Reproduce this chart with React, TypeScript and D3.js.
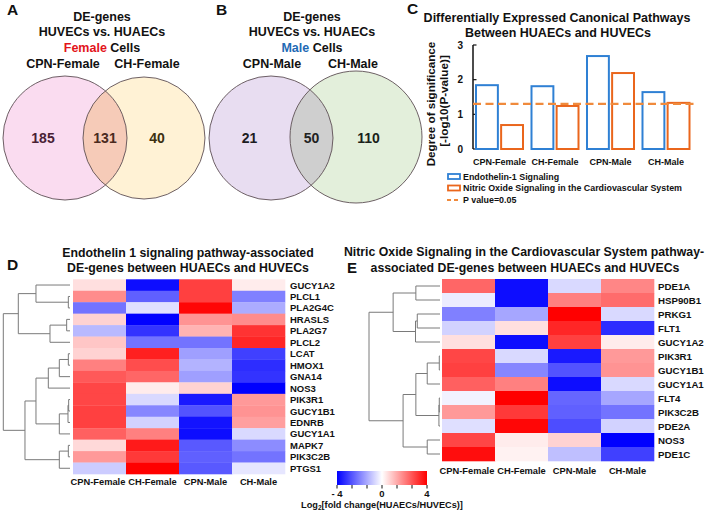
import React from 'react';
import * as d3 from 'd3';

// ---------- DATA ----------
const vennALabels = ['CPN-Female', 'CH-Female'];
const vennACounts = [185, 131, 40];
const vennBLabels = ['CPN-Male', 'CH-Male'];
const vennBCounts = [21, 50, 110];

const pathwayCats = ['CPN-Female', 'CH-Female', 'CPN-Male', 'CH-Male'];
const pathwaySeries = ['Endothelin-1 Signaling', 'Nitric Oxide Signaling in the Cardiovascular System'];
const endothelinSig = [1.87, 1.84, 2.71, 1.67];
const nitricSig = [0.72, 1.27, 2.22, 1.36];
const pThreshold = 1.3;
const yTicksC = [0, 1, 2, 3];

const heatCols = ['CPN-Female', 'CH-Female', 'CPN-Male', 'CH-Male'];

const dGenes = ['GUCY1A2', 'PLCL1', 'PLA2G4C', 'HRASLS', 'PLA2G7', 'PLCL2', 'LCAT', 'HMOX1', 'GNA14', 'NOS3',
  'PIK3R1', 'GUCY1B1', 'EDNRB', 'GUCY1A1', 'MAPK7', 'PIK3C2B', 'PTGS1'];
const dValues = [
  [0.5, -3.8, 3.0, 0.3],
  [1.8, -2.5, 3.0, -2.0],
  [-2.2, -0.5, 3.9, -1.3],
  [0.7, -4.0, 1.7, 1.8],
  [-1.1, -3.2, 1.2, 3.2],
  [0.9, -2.2, -2.2, 3.4],
  [0.7, 3.5, -1.5, -3.0],
  [2.0, 2.8, -1.2, -3.3],
  [2.6, 2.4, -1.5, -3.2],
  [2.9, 0.3, 0.7, -4.0],
  [2.9, -0.6, -3.6, 1.6],
  [3.0, -1.9, -2.7, 1.7],
  [3.0, -0.7, -3.7, 1.5],
  [2.5, 2.0, -3.8, -0.6],
  [0.6, 3.6, -2.6, -1.8],
  [1.6, 3.1, -2.5, -2.2],
  [-0.8, 4.0, -2.6, -0.4],
];
// [height, left, right] ; leaf = row index
const dTree: any = [1.0,
  [0.775, [0.51, 0, [0.025, 1, 2]], [0.3, [0.05, 3, 4], 5]],
  [0.675,
    [0.51, [0.325, [0.16, [0.025, 6, 7], 8], 9], [0.16, [0.03, [0.02, 10, 11], 12], 13]],
    [0.16, [0.025, 14, 15], 16]]];

const eGenes = ['PDE1A', 'HSP90B1', 'PRKG1', 'FLT1', 'GUCY1A2', 'PIK3R1', 'GUCY1B1', 'GUCY1A1', 'FLT4',
  'PIK3C2B', 'PDE2A', 'NOS3', 'PDE1C'];
const eValues = [
  [2.4, -3.8, -0.6, 1.9],
  [-0.3, -3.8, 2.0, 2.3],
  [-2.0, -1.4, 4.0, -0.6],
  [-0.7, 0.5, 3.4, -3.3],
  [0.5, -3.8, 3.0, 0.3],
  [2.9, -0.6, -3.6, 1.6],
  [3.0, -1.9, -2.7, 1.7],
  [2.5, 2.0, -3.8, -0.6],
  [-0.2, 4.0, -2.4, -1.4],
  [1.6, 3.1, -2.5, -2.2],
  [-0.5, 3.9, -2.8, -0.7],
  [2.9, 0.3, 0.7, -4.0],
  [3.8, 0.2, -1.0, -3.0],
];
const eTree: any = [1.0,
  [0.66, [0.34, 0, 1], [0.345, [0.32, 2, 3], 4]],
  [0.52,
    [0.34, [0.18, [0.01, 5, 6], 7], [0.015, [0.01, 8, 9], 10]],
    [0.18, 11, 12]]];

const colorDomain = [-4, 0, 4];
const colorbarLabels = [-4, 0, 4];

// ---------- HELPERS ----------
const FONT = '"Liberation Sans", Arial, Helvetica, sans-serif';
const heatColor = d3.scaleLinear<string>().domain(colorDomain).range(['#0000ff', '#ffffff', '#ff0000']).clamp(true);

function dendroPath(tree: any, yOf: (i: number) => number, xOf: (h: number) => number) {
  const p = d3.path();
  function walk(t: any): { y: number; h: number } {
    if (typeof t === 'number') return { y: yOf(t), h: 0 };
    const [h, a, b] = t;
    const ra = walk(a), rb = walk(b);
    const x = xOf(h);
    p.moveTo(xOf(ra.h), ra.y); p.lineTo(x, ra.y); p.lineTo(x, rb.y); p.lineTo(xOf(rb.h), rb.y);
    return { y: (ra.y + rb.y) / 2, h };
  }
  walk(tree);
  return p.toString();
}

function Venn({ id, labels, counts, cx1, cy1, r1, cx2, cy2, r2, fill1, fill2, fillLens, numColors, titleX, gender, genderColor, labelXs }: any) {
  return (
    <g>
      <defs>
        <clipPath id={id}><circle cx={cx1} cy={cy1} r={r1} /></clipPath>
      </defs>
      <text x={titleX} y={21} textAnchor="middle" fontSize={12.5}>DE-genes</text>
      <text x={titleX} y={36} textAnchor="middle" fontSize={12.5}>HUVECs vs. HUAECs</text>
      <text x={titleX} y={51.5} textAnchor="middle" fontSize={12.5}>
        <tspan fill={genderColor}>{gender}</tspan> Cells</text>
      <text x={labelXs[0]} y={68} textAnchor="middle" fontSize={12.5}>{labels[0]}</text>
      <text x={labelXs[1]} y={68} textAnchor="middle" fontSize={12.5}>{labels[1]}</text>
      <circle cx={cx1} cy={cy1} r={r1} fill={fill1} />
      <circle cx={cx2} cy={cy2} r={r2} fill={fill2} />
      <circle cx={cx2} cy={cy2} r={r2} fill={fillLens} clipPath={`url(#${id})`} />
      <circle cx={cx1} cy={cy1} r={r1} fill="none" stroke="#5d4f55" strokeWidth={0.9} />
      <circle cx={cx2} cy={cy2} r={r2} fill="none" stroke="#5d4f55" strokeWidth={0.9} />
      <text x={(cx1 - r1 + cx2 - r2) / 2} y={143} textAnchor="middle" fontSize={14} fill={numColors[0]}>{counts[0]}</text>
      <text x={(cx2 - r2 + cx1 + r1) / 2} y={143} textAnchor="middle" fontSize={14} fill={numColors[1]}>{counts[1]}</text>
      <text x={(cx1 + r1 + cx2 + r2) / 2 - 9} y={143} textAnchor="middle" fontSize={14} fill={numColors[2]}>{counts[2]}</text>
    </g>
  );
}

function Heatmap({ genes, values, tree, x0, x1, y0, y1, labelX, colLabelY, leafEnd, rootX, fontSize }: any) {
  const xs = d3.scaleBand().domain(heatCols).range([x0, x1]);
  const ys = d3.scaleBand().domain(genes).range([y0, y1]);
  const hx = d3.scaleLinear().domain([0, 1]).range([leafEnd, rootX]);
  const yOf = (i: number) => (ys(genes[i]) as number) + ys.bandwidth() / 2;
  return (
    <g>
      {values.map((row: number[], i: number) => row.map((v, j) => (
        <rect key={`${i}-${j}`} x={xs(heatCols[j])} y={ys(genes[i])} width={xs.bandwidth() + 0.3}
          height={ys.bandwidth() + 0.3} fill={heatColor(v)} />
      )))}
      {genes.map((g: string, i: number) => (
        <text key={g} x={labelX} y={yOf(i) + 3.5} fontSize={fontSize}>{g}</text>
      ))}
      {heatCols.map((c, j) => (
        <text key={c} x={(xs(c) as number) + xs.bandwidth() / 2 - (j === 0 ? 1.5 : 0)} y={colLabelY}
          textAnchor="middle" fontSize={9.3}>{c}</text>
      ))}
      <path d={dendroPath(tree, yOf, hx)} fill="none" stroke="#7a7a7a" strokeWidth={1} />
    </g>
  );
}

export default function App() {
  // Panel C scales
  const x0 = d3.scaleBand().domain(pathwayCats).range([475, 690.5]).paddingInner(0.117);
  const x1 = d3.scaleBand().domain(['e', 'n']).range([0, x0.bandwidth()]).paddingInner(0.05);
  const yC = d3.scaleLinear().domain([0, 3]).range([149, 45]);
  const seriesVals: Record<string, number[]> = { e: endothelinSig, n: nitricSig };
  const seriesColor: Record<string, string> = { e: '#2f80d4', n: '#ea661c' };

  // colorbar
  const cb = d3.scaleLinear().domain([-4, 4]).range([337, 427]);
  const cbTicks = d3.range(7).map((i) => -4 + (i * 8) / 6);

  return (
    <svg width={706} height={513} style={{ position: 'absolute', left: 0, top: 0, background: '#fff' }}
      fontFamily={FONT} fontWeight="bold" fill="#111">
      <rect x={0} y={0} width={706} height={513} fill="#fff" />
      {/* Panel labels */}
      <text x={7} y={15} fontSize={15.5}>A</text>
      <text x={216} y={15} fontSize={15.5}>B</text>
      <text x={407} y={14} fontSize={15.5}>C</text>
      <text x={7} y={270} fontSize={15.5}>D</text>
      <text x={347} y={273} fontSize={15}>E</text>

      {/* Panel A */}
      <Venn id="clipA" labels={vennALabels} counts={vennACounts} cx1={65} cy1={138} r1={62} cx2={144} cy2={138} r2={61}
        fill1="#fadcf0" fill2="#fff2d5" fillLens="#f6cbb8" numColors={['#4a1f35', '#4a2a20', '#3c3010']}
        titleX={102} gender="Female" genderColor="#e3141b" labelXs={[63, 147]} />
      {/* Panel B */}
      <Venn id="clipB" labels={vennBLabels} counts={vennBCounts} cx1={271} cy1={138} r1={62} cx2={356} cy2={137} r2={66}
        fill1="#e8ddf1" fill2="#e3efdb" fillLens="#cfcfcf" numColors={['#1c1c22', '#222', '#1a1f1a']}
        titleX={312} gender="Male" genderColor="#1f6bb5" labelXs={[272, 353]} />

      {/* Panel C */}
      <text x={557} y={21.5} textAnchor="middle" fontSize={12.5}>Differentially Expressed Canonical Pathways</text>
      <text x={558} y={36.5} textAnchor="middle" fontSize={12.5}>Between HUAECs and HUVECs</text>
      <text transform="translate(435,104) rotate(-90)" textAnchor="middle" fontSize={11.7}>Degree of significance</text>
      <text transform="translate(447.5,101) rotate(-90)" textAnchor="middle" fontSize={11.7}>[-log10(P-value)]</text>
      <line x1={473} x2={473} y1={yC(3)} y2={yC(0)} stroke="#111" strokeWidth={1.5} />
      {yTicksC.map((t) => (
        <g key={t}>
          <line x1={473} x2={476.5} y1={yC(t)} y2={yC(t)} stroke="#111" strokeWidth={1.2} />
          <text x={463} y={yC(t) + 3.5} textAnchor="end" fontSize={10}>{t}</text>
        </g>
      ))}
      {pathwayCats.map((c, i) => (
        <g key={c}>
          {['e', 'n'].map((s) => {
            const v = seriesVals[s][i];
            const bx = (x0(c) as number) + (x1(s) as number);
            return (
              <rect key={s} x={bx + 1} y={yC(v) + 1} width={x1.bandwidth() - 2} height={yC(0) - yC(v) - 1}
                fill="#fff" stroke={seriesColor[s]} strokeWidth={2} />
            );
          })}
          <text x={(x0(c) as number) + x0.bandwidth() / 2} y={165} textAnchor="middle" fontSize={9}>{c}</text>
        </g>
      ))}
      <line x1={473} x2={698} y1={yC(pThreshold)} y2={yC(pThreshold)} stroke="#f08a3c" strokeWidth={2.2}
        strokeDasharray="8,4.5" />
      {/* legend */}
      <rect x={448} y={174} width={12} height={5} fill="#fff" stroke={seriesColor.e} strokeWidth={1.8} />
      <text x={463} y={179.5} fontSize={8.9}>{pathwaySeries[0]}</text>
      <rect x={448} y={185.5} width={12} height={5} fill="#fff" stroke={seriesColor.n} strokeWidth={1.8} />
      <text x={463} y={191} fontSize={8.9}>{pathwaySeries[1]}</text>
      <line x1={447} x2={461} y1={200} y2={200} stroke="#f08a3c" strokeWidth={1.8} strokeDasharray="4,3" />
      <text x={463} y={203} fontSize={8.9}>P value=0.05</text>

      {/* Panel D */}
      <text x={188} y={257} textAnchor="middle" fontSize={12.3}>Endothelin 1 signaling pathway-associated</text>
      <text x={188} y={272} textAnchor="middle" fontSize={12.3}>DE-genes between HUAECs and HUVECs</text>
      <Heatmap genes={dGenes} values={dValues} tree={dTree} x0={73} x1={285} y0={279.3} y1={474}
        labelX={290} colLabelY={485} leafEnd={70} rootX={3.3} fontSize={9.5} />

      {/* Panel E */}
      <text x={524} y={256} textAnchor="middle" fontSize={12.3}>Nitric Oxide Signaling in the Cardiovascular System pathway-</text>
      <text x={525} y={271.5} textAnchor="middle" fontSize={12.3}>associated DE-genes between HUAECs and HUVECs</text>
      <Heatmap genes={eGenes} values={eValues} tree={eTree} x0={442} x1={654} y0={279} y1={461}
        labelX={658} colLabelY={474} leafEnd={440} rootX={369} fontSize={9.7} />

      {/* Colorbar */}
      <defs>
        <linearGradient id="cbGrad" x1="0" x2="1" y1="0" y2="0">
          {colorDomain.map((v) => (
            <stop key={v} offset={(v + 4) / 8} stopColor={heatColor(v)} />
          ))}
        </linearGradient>
      </defs>
      <rect x={cb(-4)} y={471} width={cb(4) - cb(-4)} height={14} fill="url(#cbGrad)" />
      {cbTicks.map((t, i) => (
        <line key={i} x1={cb(t)} x2={cb(t)} y1={485} y2={488.5} stroke="#111" strokeWidth={1} />
      ))}
      {colorbarLabels.map((t) => (
        <text key={t} x={cb(t)} y={497} textAnchor="middle" fontSize={9.5}>{t < 0 ? `- ${Math.abs(t)}` : `${t}`}</text>
      ))}
      <text x={382} y={507.5} textAnchor="middle" fontSize={9.2}>
        Log<tspan fontSize={6.5} dy={2}>2</tspan><tspan dy={-2}>[fold change(HUAECs/HUVECs)]</tspan>
      </text>
    </svg>
  );
}
